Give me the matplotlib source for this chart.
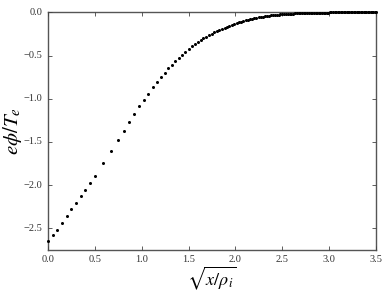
import matplotlib
matplotlib.use("Agg")
import matplotlib.pyplot as plt

plt.style.use("classic")
plt.rcParams["font.family"] = ["Liberation Serif", "DejaVu Serif"]
plt.rcParams["mathtext.fontset"] = "stix"

# sqrt(x/rho_i) positions of the points
s_vals = [
    0.0, 0.05, 0.10, 0.15, 0.20, 0.25, 0.30, 0.35, 0.40, 0.45, 0.50,
    0.592, 0.671, 0.742, 0.806, 0.866, 0.922, 0.975, 1.025, 1.072, 1.118,
    1.162, 1.204, 1.245, 1.285, 1.323, 1.360, 1.396, 1.432, 1.466, 1.500,
    1.533, 1.565, 1.597, 1.628, 1.658, 1.688, 1.718, 1.746, 1.775, 1.803,
    1.830, 1.857, 1.884, 1.910, 1.936, 1.962, 1.987, 2.012, 2.037, 2.062,
    2.086, 2.110, 2.133, 2.156, 2.179, 2.202, 2.225, 2.247, 2.269, 2.291,
    2.313, 2.335, 2.356, 2.377, 2.398, 2.419, 2.439, 2.460, 2.480, 2.500,
    2.520, 2.540, 2.559, 2.579, 2.598, 2.617, 2.636, 2.655, 2.674, 2.693,
    2.711, 2.729, 2.748, 2.766, 2.784, 2.802, 2.820, 2.837, 2.855, 2.872,
    2.890, 2.907, 2.924, 2.941, 2.958, 2.975, 2.992, 3.008, 3.025, 3.041,
    3.058, 3.074, 3.090, 3.106, 3.122, 3.138, 3.154, 3.170, 3.186, 3.202,
    3.217, 3.233, 3.248, 3.263, 3.279, 3.294, 3.309, 3.324, 3.339, 3.354,
    3.369, 3.384, 3.399, 3.413, 3.428, 3.442, 3.457, 3.471, 3.486, 3.500,
]

# e*phi/T_e values
phi_vals = [
    -2.65, -2.58, -2.52, -2.44, -2.36, -2.28, -2.21, -2.13, -2.06, -1.98, -1.90,
    -1.74, -1.60, -1.48, -1.37, -1.27, -1.18, -1.09, -1.01, -0.94, -0.87,
    -0.81, -0.75, -0.70, -0.65, -0.61, -0.565, -0.525, -0.49, -0.455, -0.42,
    -0.395, -0.37, -0.345, -0.32, -0.30, -0.28, -0.265, -0.248, -0.232, -0.217,
    -0.203, -0.19, -0.177, -0.165, -0.154, -0.143, -0.133, -0.124, -0.115, -0.107,
    -0.099, -0.092, -0.085, -0.079, -0.073, -0.068, -0.063, -0.058, -0.054, -0.050,
    -0.046, -0.042, -0.039, -0.036, -0.033, -0.031, -0.028, -0.026, -0.024, -0.022,
    -0.020, -0.019, -0.017, -0.016, -0.015, -0.014, -0.013, -0.012, -0.011, -0.010,
    -0.009, -0.009, -0.008, -0.007, -0.007, -0.006, -0.006, -0.005, -0.005, -0.005,
    -0.004, -0.004, -0.004, -0.003, -0.003, -0.003, -0.003, -0.002, -0.002, -0.002,
    -0.002, -0.002, -0.002, -0.002, -0.001, -0.001, -0.001, -0.001, -0.001, -0.001,
    -0.001, -0.001, -0.001, -0.001, -0.001, -0.001, -0.001, -0.001, -0.001, -0.001,
    -0.0005, -0.0005, -0.0005, -0.0005, -0.0005, -0.0005, -0.0005, -0.0005, -0.0005, 0.0,
]

x_ticks = [0.0, 0.5, 1.0, 1.5, 2.0, 2.5, 3.0, 3.5]
y_ticks = [-2.5, -2.0, -1.5, -1.0, -0.5, 0.0]

fig = plt.figure(figsize=(3.9, 2.93), dpi=100, facecolor="white")
ax = fig.add_axes([0.123, 0.147, 0.841, 0.811])
ax.plot(s_vals, phi_vals, linestyle="none", marker="o", markersize=2.2,
        markerfacecolor="black", markeredgecolor="black", markeredgewidth=0,
        clip_on=False, zorder=3)
ax.set_xlim(0, 3.5)
ax.set_ylim(-2.75, 0.0)
ax.set_xticks(x_ticks)
ax.set_yticks(y_ticks)
ax.set_xticklabels([f"{v:.1f}" for v in x_ticks])
ax.set_yticklabels([f"{v:.1f}".replace("-", "\u2212") for v in y_ticks])
ax.tick_params(labelsize=7.5, direction="in", length=3, width=0.6, colors="#444444",
               labelcolor="#333333", top=True, right=True)
for sp in ax.spines.values():
    sp.set_color("#555555")
    sp.set_linewidth(1.0)
ax.set_xlabel(r"$\sqrt{x/\rho_i}$", fontsize=13, labelpad=0)
ax.set_ylabel(r"$e\phi/T_e$", fontsize=15, labelpad=0)
fig.savefig("out.png", dpi=100, facecolor="white")
